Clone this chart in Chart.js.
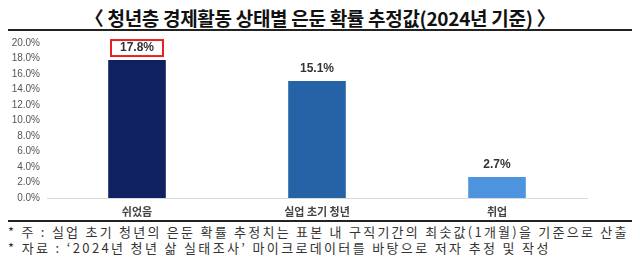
<!DOCTYPE html>
<html>
<head>
<meta charset="utf-8">
<script src="https://cdn.jsdelivr.net/npm/chart.js@4"></script>
<style>
    body{margin:0;background:#fff;width:640px;height:257px;overflow:hidden;position:relative;font-family:"Noto Sans CJK KR",sans-serif;}
    #title{position:absolute;left:0;top:4px;width:640px;text-align:center;font-size:19px;font-weight:bold;color:#111;letter-spacing:-0.3px;}
    .rule{position:absolute;left:8px;width:624px;height:2px;background:#222;}
    #chartBox{position:absolute;left:0;top:30px;width:640px;height:190px;}
    .note{position:absolute;left:8px;font-size:13px;color:#333;white-space:nowrap;}
</style>
</head>
<body>
<div id="title">〈 청년층 경제활동 상태별 은둔 확률 추정값(2024년 기준) 〉</div>
<div class="rule" style="top:29px"></div>
<div id="chartBox"><canvas id="resultChart"></canvas></div>
<div class="rule" style="top:220px"></div>
<div class="note" style="top:222px;letter-spacing:2.25px">* 주 : 실업 초기 청년의 은둔 확률 추정치는 표본 내 구직기간의 최솟값(1개월)을 기준으로 산출</div>
<div class="note" style="top:238px;letter-spacing:2.35px">* 자료 : ‘2024년 청년 삶 실태조사’ 마이크로데이터를 바탕으로 저자 추정 및 작성</div>
<script>
// status categories and estimated seclusion probability (%)
const categories = ["쉬었음", "실업 초기 청년", "취업"];
const probValues = [17.8, 15.1, 2.7];
const yTicks = [0, 2, 4, 6, 8, 10, 12, 14, 16, 18, 20];
const barColors = ["#0f2161", "#2562a6", "#4d93de"];
const highlightIndex = 0;

// value labels on top of bars, first one boxed in red
const valueLabels = {
    id: "valueLabels",
    afterDatasetsDraw(chart) {
        const ctx = chart.ctx;
        const meta = chart.getDatasetMeta(0);
        ctx.save();
        ctx.font = "bold 12px 'Liberation Sans', Arial, sans-serif";
        ctx.fillStyle = "#333";
        ctx.textAlign = "center";
        ctx.textBaseline = "middle";
        meta.data.forEach((bar, i) => {
            let txt = probValues[i].toFixed(1) + "%";
            let y = bar.y - 12;
            ctx.fillText(txt, bar.x, y);
            if(i == highlightIndex){
                ctx.strokeStyle = "#e52222";
                ctx.lineWidth = 2;
                ctx.strokeRect(bar.x - 26, y - 8, 52, 16);
            }
        });
        ctx.restore();
    }
};

var ctx = document.getElementById("resultChart").getContext("2d");
var myChart = new Chart(ctx, {
    type: "bar",
    data: {
        labels: categories,
        datasets: [{
            data: probValues,
            backgroundColor: barColors,
            barPercentage: 0.32,
            categoryPercentage: 1
        }]
    },
    options: {
        responsive: true,
        maintainAspectRatio: false,
        animation: false,
        layout: {padding: {left: 0, right: 53, top: 7, bottom: 0}},
        plugins: {legend: {display: false}, tooltip: {enabled: false}},
        scales: {
            x: {
                grid: {display: false, drawTicks: false},
                border: {display: true, color: "#d9d9d9", width: 1},
                ticks: {
                    color: "#444",
                    padding: 7,
                    font: {family: "'Noto Sans CJK KR', sans-serif", size: 11, weight: "bold"}
                },
                afterFit: (s) => { s.height = 22; }
            },
            y: {
                min: 0,
                max: 20,
                grid: {display: false, drawTicks: false},
                border: {display: false},
                afterBuildTicks: (s) => { s.ticks = yTicks.map(v => ({value: v})); },
                afterFit: (s) => { s.width = 47; },
                ticks: {
                    color: "#555",
                    padding: 7,
                    font: {family: "'Liberation Sans', Arial, sans-serif", size: 10},
                    callback: (v) => Number(v).toFixed(1) + "%"
                }
            }
        }
    },
    plugins: [valueLabels]
});
</script>
</body>
</html>
